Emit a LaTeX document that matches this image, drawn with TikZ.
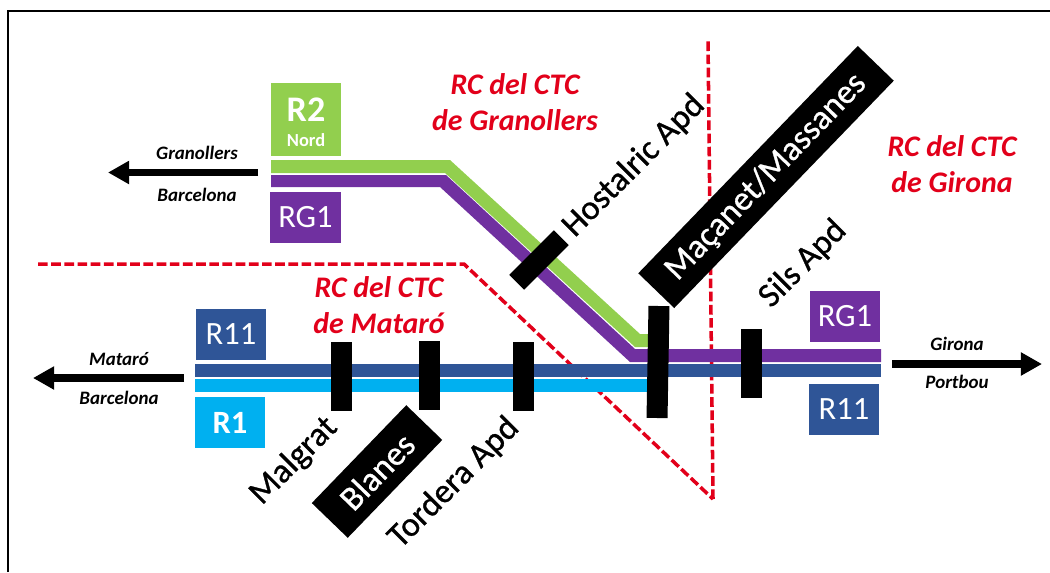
\documentclass[tikz,border=0pt]{standalone}
\usepackage{fontspec}
\setmainfont{Carlito}
\newfontfamily\stationfont[FakeBold=0.9]{Carlito}
\usetikzlibrary{arrows.meta}
\definecolor{rtwo}{HTML}{92CF4E}
\definecolor{rgone}{HTML}{7030A0}
\definecolor{releven}{HTML}{2F5597}
\definecolor{rone}{HTML}{00B0F0}
\definecolor{ctcred}{HTML}{E2001A}
\tikzset{
  linebox/.style={minimum width=70*0.02cm, minimum height=51*0.02cm, inner sep=0pt, text=white, font=\fontsize{18.5}{20}\selectfont},
  stationbar/.style={fill=black, minimum width=21*0.02cm, minimum height=69*0.02cm, inner sep=0pt},
  stationbox/.style={fill=black, text=white, rotate=46, minimum height=50*0.02cm, inner sep=0pt, font=\fontsize{19.5}{20}\stationfont},
  stationlabel/.style={rotate=45, inner sep=0pt, font=\fontsize{19.5}{20}\stationfont},
  ctclabel/.style={text=ctcred, align=center, inner sep=0pt, font=\fontsize{17}{20.4}\selectfont\bfseries\itshape},
  dirlabel/.style={inner sep=0pt, font=\fontsize{10.8}{12}\selectfont\bfseries\itshape},
  dirarrow/.style={line width=4pt, -{Triangle[length=12pt, width=12.5pt]}},
  ctcborder/.style={ctcred, line width=2pt, dash pattern=on 5.5pt off 2pt}
}
\begin{document}
\begin{tikzpicture}[x=0.02cm, y=-0.02cm]
  \useasboundingbox (0,0) rectangle (1050,572);
  % frame ----------------------------------------------------------
  \draw[line width=1.2pt] (8,572) -- (8,11) -- (1050,11);
  % CTC borders ----------------------------------------------------
  \draw[ctcborder] (38,264) -- (464,264) -- (713,499);
  \draw[ctcborder] (713,499) -- (708,41);
  % tracks ---------------------------------------------------------
  \fill[rtwo] (271,160) -- (450,160) -- (640,334) -- (650,334) -- (650,347) -- (635,347) -- (445,173) -- (271,173) -- cycle;
  \fill[rgone] (271,175) -- (446,175) -- (635,349) -- (881,349) -- (881,362) -- (630,362) -- (440,187) -- (271,187) -- cycle;
  \fill[releven] (195,364) rectangle (881,377);
  \fill[rone] (195,379) rectangle (650,392);
  % line boxes -----------------------------------------------------
  \node[linebox, fill=rtwo, minimum height=73*0.02cm] (rtwobox) at (306,119.5) {};
  \node[inner sep=0pt, text=white, font=\fontsize{20.5}{22}\selectfont\bfseries] (rtwotext) at (306,110) {R2};
  \node[inner sep=0pt, text=white, font=\fontsize{10.5}{12}\selectfont\bfseries] (nordtext) at (306,140) {Nord};
  \node[linebox, fill=rgone, minimum width=71*0.02cm] (rgoneleft) at (305.5,217) {RG1};
  \node[linebox, fill=releven] (relevenleft) at (231,334.5) {R11};
  \node[linebox, fill=rone, font=\fontsize{18.5}{20}\selectfont\bfseries] (roneleft) at (230,422.5) {R1};
  \node[linebox, fill=rgone] (rgoneright) at (845,316.5) {RG1};
  \node[linebox, fill=releven] (relevenright) at (844,409.5) {R11};
  % station bars ---------------------------------------------------
  \foreach \xb/\yb/\nm in {341/376.5/malgrat, 429/375.5/blanes, 523/376.5/tordera, 751/363.5/sils} {
    \node[stationbar] (\nm bar) at (\xb,\yb) {};
  }
  \node[stationbar, minimum height=112*0.02cm, rotate=-1] (macanetbar) at (658,362) {};
  \node[stationbar, rotate=-45, minimum height=63*0.02cm] (hostalricbar) at (539,260) {};
  % station names --------------------------------------------------
  \node[stationlabel] (malgrat) at (294,461) {Malgrat};
  \node[stationlabel] (tordera) at (454,483) {Tordera Apd};
  \node[stationlabel] (hostalric) at (634,166) {Hostalric Apd};
  \node[stationlabel] (sils) at (803,264) {Sils Apd};
  \node[stationbox, minimum width=136*0.02cm] (blanes) at (377,471.5) {Blanes};
  \node[stationbox, minimum width=316*0.02cm] (macanet) at (766,177) {Maçanet/Massanes};
  % CTC labels -----------------------------------------------------
  \node[ctclabel] (ctcgranollers) at (515,102) {RC del CTC\\de Granollers};
  \node[ctclabel] (ctcmataro) at (379,305) {RC del CTC\\de Mataró};
  \node[ctclabel] (ctcgirona) at (952,164) {RC del CTC\\de Girona};
  % directions -----------------------------------------------------
  \coordinate (granollersstart) at (258,172.5);
  \coordinate (granollersend) at (108,172.5);
  \coordinate (matarostart) at (184,378);
  \coordinate (mataroend) at (33,378);
  \coordinate (gironastart) at (892,364);
  \coordinate (gironaend) at (1042,364);
  \draw[dirarrow] (granollersstart) -- (granollersend);
  \draw[dirarrow] (matarostart) -- (mataroend);
  \draw[dirarrow] (gironastart) -- (gironaend);
  \node[dirlabel] (granollers) at (197,153) {Granollers};
  \node[dirlabel] (barcelonaup) at (197,195) {Barcelona};
  \node[dirlabel] (mataro) at (119,359) {Mataró};
  \node[dirlabel] (barcelonadown) at (119,398) {Barcelona};
  \node[dirlabel] (girona) at (957,344) {Girona};
  \node[dirlabel] (portbou) at (957,382) {Portbou};
\end{tikzpicture}
\end{document}
